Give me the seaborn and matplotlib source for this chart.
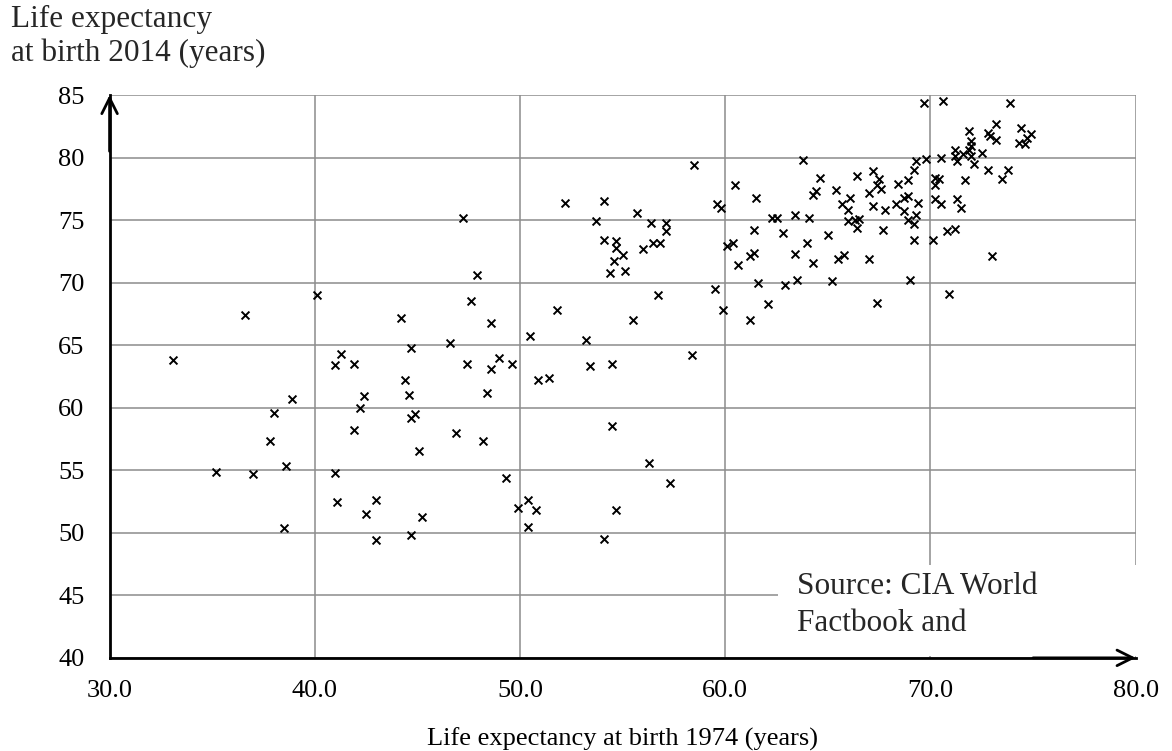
#!/usr/bin/env python3
"""Life expectancy 1974 vs 2014 scatter."""

import matplotlib
matplotlib.use("Agg")
import matplotlib.pyplot as plt
from matplotlib.patches import Rectangle
import pandas as pd
import seaborn as sns

# life expectancy at birth, 1974 (x) and 2014 (y), one entry per country
LIFE_1974 = [
    33.1, 35.2, 36.6, 37.0, 37.8, 38.0, 38.5, 38.6, 38.9, 40.1,
    41.0, 41.3, 41.9, 41.9, 41.0, 41.1, 42.2, 42.4, 42.5, 43.0,
    43.0, 44.2, 44.7, 44.4, 44.6, 44.9, 44.7, 45.1, 45.2, 44.7,
    46.6, 46.9, 47.2, 47.4, 47.6, 47.9, 48.2, 48.4, 48.6, 48.6,
    49.0, 49.6, 49.3, 49.9, 50.4, 50.8, 50.4, 50.5, 50.9, 51.4,
    51.8, 52.2, 53.2, 53.4, 53.7, 54.1, 54.1, 54.4, 54.6, 54.7,
    54.7, 55.0, 55.1, 54.5, 54.5, 54.7, 54.1, 55.5, 55.7, 56.0,
    56.5, 56.8, 56.4, 57.1, 57.1, 56.7, 56.3, 57.3, 58.4, 58.5,
    59.6, 59.8, 59.5, 59.9, 60.1, 60.4, 60.5, 60.6, 61.2, 61.4,
    61.4, 61.5, 61.2, 61.6, 62.1, 62.3, 62.5, 62.8, 62.9, 63.4,
    63.4, 63.5, 63.8, 64.0, 64.1, 64.3, 64.4, 64.3, 64.6, 65.0,
    65.2, 65.4, 65.5, 65.7, 65.8, 66.0, 66.1, 66.0, 66.3, 66.4,
    66.4, 66.5, 67.0, 67.2, 67.5, 67.4, 67.6, 67.2, 67.8, 67.7,
    67.0, 67.4, 68.4, 68.9, 68.3, 68.7, 68.9, 68.7, 68.9, 69.2,
    69.3, 69.4, 69.2, 69.0, 69.2, 69.3, 69.7, 69.8, 70.1, 70.2,
    70.5, 70.2, 70.4, 70.2, 70.5, 70.6, 70.8, 70.9, 71.2, 71.2,
    71.2, 71.3, 71.3, 71.5, 71.6, 71.7, 71.9, 71.9, 72.0, 72.0,
    72.0, 72.1, 72.5, 72.8, 72.9, 72.8, 73.0, 73.2, 73.2, 73.5,
    73.8, 73.9, 74.4, 74.9, 74.7, 74.3, 74.6,
]
LIFE_2014 = [
    63.8, 54.9, 67.4, 54.7, 57.3, 59.6, 50.4, 55.3, 60.7, 69.0,
    63.4, 64.3, 63.5, 58.2, 54.8, 52.5, 60.0, 60.9, 51.5, 52.6,
    49.4, 67.2, 64.8, 62.2, 61.0, 59.5, 59.2, 56.5, 51.3, 49.8,
    65.2, 58.0, 75.2, 63.5, 68.5, 70.6, 57.3, 61.2, 66.8, 63.1,
    64.0, 63.5, 54.4, 52.0, 52.6, 51.8, 50.5, 65.7, 62.2, 62.4,
    67.8, 76.4, 65.4, 63.3, 74.9, 76.5, 73.4, 70.8, 71.7, 73.3,
    72.8, 72.2, 70.9, 63.5, 58.5, 51.8, 49.5, 67.0, 75.6, 72.7,
    73.2, 73.2, 74.8, 74.8, 74.1, 69.0, 55.6, 54.0, 64.2, 79.4,
    76.3, 76.0, 69.5, 67.8, 72.9, 73.2, 77.8, 71.4, 72.1, 72.4,
    74.2, 76.8, 67.0, 70.0, 68.3, 75.2, 75.2, 74.0, 69.8, 75.4,
    72.3, 70.2, 79.8, 73.2, 75.2, 77.0, 77.3, 71.6, 78.4, 73.8,
    70.1, 77.4, 71.9, 76.3, 72.2, 75.8, 76.8, 74.9, 75.0, 74.4,
    78.5, 75.1, 77.2, 78.9, 78.3, 77.8, 77.5, 76.1, 75.8, 74.2,
    71.9, 68.4, 77.9, 78.2, 76.3, 76.8, 76.9, 75.7, 75.0, 74.7,
    75.4, 76.4, 73.4, 70.2, 79.0, 79.7, 84.4, 79.9, 73.4, 76.7,
    76.3, 78.4, 78.3, 77.8, 80.0, 84.5, 74.1, 69.1, 74.3, 80.6,
    80.1, 79.7, 76.7, 76.0, 80.3, 78.2, 82.1, 80.6, 81.3, 80.9,
    80.1, 79.5, 80.4, 82.0, 81.7, 79.0, 72.1, 82.7, 81.4, 78.3,
    79.0, 84.4, 82.4, 81.9, 81.6, 81.2, 81.1,
]

X_TICKS = [30, 40, 50, 60, 70, 80]
Y_TICKS = [40, 45, 50, 55, 60, 65, 70, 75, 80, 85]
SERIF = ["Liberation Serif", "DejaVu Serif"]


def main():
    sns.set_theme(style="white")
    plt.rcParams["font.family"] = SERIF

    df = pd.DataFrame({"y1974": LIFE_1974, "y2014": LIFE_2014})

    fig = plt.figure(figsize=(11.72, 7.51), dpi=100)
    ax = fig.add_axes([0.0935, 0.124, 0.8755, 0.7495])

    sns.scatterplot(data=df, x="y1974", y="y2014", marker="x", color="black",
                    s=32, linewidth=1.4, ax=ax, zorder=3)

    ax.set_xlim(30, 80)
    ax.set_ylim(40, 85)
    ax.set_xticks(X_TICKS)
    ax.set_xticklabels([f"{t:.1f}" for t in X_TICKS])
    ax.set_yticks(Y_TICKS)
    ax.tick_params(axis="both", length=0, labelsize=19, colors="black")
    ax.tick_params(axis="x", pad=16)
    ax.tick_params(axis="y", pad=18)
    ax.grid(True, color="#8c8c8c", linewidth=1.1)
    ax.set_axisbelow(True)

    for side in ["top", "right"]:
        ax.spines[side].set_visible(False)
    for side in ["left", "bottom"]:
        ax.spines[side].set_color("black")
        ax.spines[side].set_linewidth(2)
        ax.spines[side].set_zorder(4)

    arrow = dict(arrowstyle="->", lw=2, color="black", mutation_scale=28,
                 shrinkA=0, shrinkB=0)
    ax.annotate("", xy=(0, 1.0), xytext=(0, 0.9), xycoords="axes fraction",
                arrowprops=arrow, annotation_clip=False)
    ax.annotate("", xy=(1.0, 0), xytext=(0.9, 0), xycoords="axes fraction",
                arrowprops=arrow, annotation_clip=False)

    ax.set_xlabel("Life expectancy at birth 1974 (years)", fontsize=19,
                  color="black", labelpad=18)
    ax.set_ylabel("")
    fig.text(0.009, 0.993, "Life expectancy\nat birth 2014 (years)",
             fontsize=22.5, va="top", ha="left", linespacing=1.18)

    # white panel behind the source note
    ax.add_patch(Rectangle((0.651, 0.004), 0.349, 0.161, transform=ax.transAxes,
                           facecolor="white", edgecolor="none", zorder=2))
    ax.text(0.670, 0.152, "Source: CIA World\nFactbook and", transform=ax.transAxes,
            fontsize=22.5, va="top", ha="left", linespacing=1.35, zorder=2.5)

    fig.savefig("out.png", dpi=100)
    plt.close(fig)


if __name__ == "__main__":
    main()
